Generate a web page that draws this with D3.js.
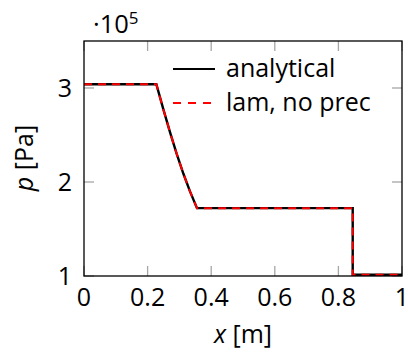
<!DOCTYPE html>
<html lang="en">
<head>
    <meta charset="UTF-8">
    <title>Pressure profile</title>
    <script src="https://cdnjs.cloudflare.com/ajax/libs/d3/7.8.5/d3.min.js"></script>
    <style>
        body {
            margin: 0;
            padding: 0;
            background: #fff;
        }
        svg text {
            font-family: "Open Sans", sans-serif;
            fill: #000;
        }
    </style>
</head>
<body>
    <div id="chart"></div>

    <script>
        // data (x in m, p in 1e5 Pa)
        const xAnalytical = [0, 0.2275, 0.2494, 0.2704, 0.2915, 0.3123, 0.3333, 0.3553, 0.845, 0.845, 1];
        const pAnalytical = [3.04, 3.04, 2.775, 2.530, 2.300, 2.090, 1.900, 1.722, 1.722, 1.013, 1.013];
        const xLamNoPrec = [0, 0.2275, 0.2494, 0.2704, 0.2915, 0.3123, 0.3333, 0.3553, 0.845, 0.845, 1];
        const pLamNoPrec = [3.04, 3.04, 2.775, 2.530, 2.300, 2.090, 1.900, 1.722, 1.722, 1.013, 1.013];

        const xTicks = [0, 0.2, 0.4, 0.6, 0.8, 1];
        const xTickLabels = ['0', '0.2', '0.4', '0.6', '0.8', '1'];
        const yTicks = [1, 2, 3];
        const yTickLabels = ['1', '2', '3'];
        const seriesNames = ['analytical', 'lam, no prec'];

        const width = 408, height = 354;
        const margin = {left: 84, right: 6, top: 41, bottom: 78};

        const svg = d3.select('#chart')
            .append('svg')
            .attr('width', width)
            .attr('height', height);

        const x = d3.scaleLinear().domain([0, 1])
            .range([margin.left, width - margin.right]);
        const y = d3.scaleLinear().domain([1, 3.5])
            .range([height - margin.bottom, margin.top]);

        const tickLen = 10;
        const tickColor = '#a6a6a6';

        // ticks on all four sides, pointing inwards
        const ticks = svg.append('g').attr('stroke', tickColor).attr('stroke-width', 1.3);
        xTicks.forEach(t => {
            ticks.append('line').attr('x1', x(t)).attr('x2', x(t))
                .attr('y1', y.range()[0]).attr('y2', y.range()[0] - tickLen);
            ticks.append('line').attr('x1', x(t)).attr('x2', x(t))
                .attr('y1', y.range()[1]).attr('y2', y.range()[1] + tickLen);
        });
        yTicks.forEach(t => {
            ticks.append('line').attr('y1', y(t)).attr('y2', y(t))
                .attr('x1', x.range()[0]).attr('x2', x.range()[0] + tickLen);
            ticks.append('line').attr('y1', y(t)).attr('y2', y(t))
                .attr('x1', x.range()[1]).attr('x2', x.range()[1] - tickLen);
        });

        // tick labels
        svg.append('g').selectAll('text')
            .data(xTicks)
            .join('text')
            .attr('x', d => x(d))
            .attr('y', y.range()[0] + 30)
            .attr('text-anchor', 'middle')
            .attr('font-size', 25)
            .text((d, i) => xTickLabels[i]);

        svg.append('g').selectAll('text')
            .data(yTicks)
            .join('text')
            .attr('x', x.range()[0] - 12)
            .attr('y', d => y(d))
            .attr('dy', '0.36em')
            .attr('text-anchor', 'end')
            .attr('font-size', 25)
            .text((d, i) => yTickLabels[i]);

        // scale factor label
        const sc = svg.append('text').attr('x', 93).attr('y', 33).attr('font-size', 25.5);
        sc.append('tspan').text('\u00b710');
        sc.append('tspan').attr('font-size', 17).attr('dy', -9).text('5');

        // axis labels
        const xl = svg.append('text')
            .attr('x', (x.range()[0] + x.range()[1]) / 2)
            .attr('y', 343)
            .attr('text-anchor', 'middle')
            .attr('font-size', 25);
        xl.append('tspan').attr('font-style', 'italic').text('x');
        xl.append('tspan').text(' [m]');

        const yl = svg.append('text')
            .attr('transform', 'translate(33,158) rotate(-90)')
            .attr('text-anchor', 'middle')
            .attr('font-size', 25);
        yl.append('tspan').attr('font-style', 'italic').text('p');
        yl.append('tspan').text(' [Pa]');

        // lines
        const line = d3.line().x(d => x(d[0])).y(d => y(d[1]));
        const analytical = xAnalytical.map((v, i) => [v, pAnalytical[i]]);
        const lamNoPrec = xLamNoPrec.map((v, i) => [v, pLamNoPrec[i]]);

        svg.append('path')
            .datum(analytical)
            .attr('d', line)
            .attr('fill', 'none')
            .attr('stroke', '#000')
            .attr('stroke-width', 2.4);

        svg.append('path')
            .datum(lamNoPrec)
            .attr('d', line)
            .attr('fill', 'none')
            .attr('stroke', '#ff0000')
            .attr('stroke-width', 2)
            .attr('stroke-dasharray', '8,6');

        // frame
        svg.append('rect')
            .attr('x', x.range()[0]).attr('y', y.range()[1])
            .attr('width', x.range()[1] - x.range()[0])
            .attr('height', y.range()[0] - y.range()[1])
            .attr('fill', 'none')
            .attr('stroke', '#000')
            .attr('stroke-width', 1.3);

        // legend (no box)
        const legend = svg.append('g');
        const legendStyles = [
            {stroke: '#000', dash: null, width: 2.2},
            {stroke: '#ff0000', dash: '8,7', width: 2.2}
        ];
        seriesNames.forEach((name, i) => {
            const cy = 69 + i * 34;
            legend.append('line')
                .attr('x1', 173).attr('x2', 215)
                .attr('y1', cy).attr('y2', cy)
                .attr('stroke', legendStyles[i].stroke)
                .attr('stroke-width', legendStyles[i].width)
                .attr('stroke-dasharray', legendStyles[i].dash);
            legend.append('text')
                .attr('x', 226).attr('y', cy)
                .attr('dy', '0.33em')
                .attr('font-size', 25)
                .text(name);
        });
    </script>
</body>
</html>
